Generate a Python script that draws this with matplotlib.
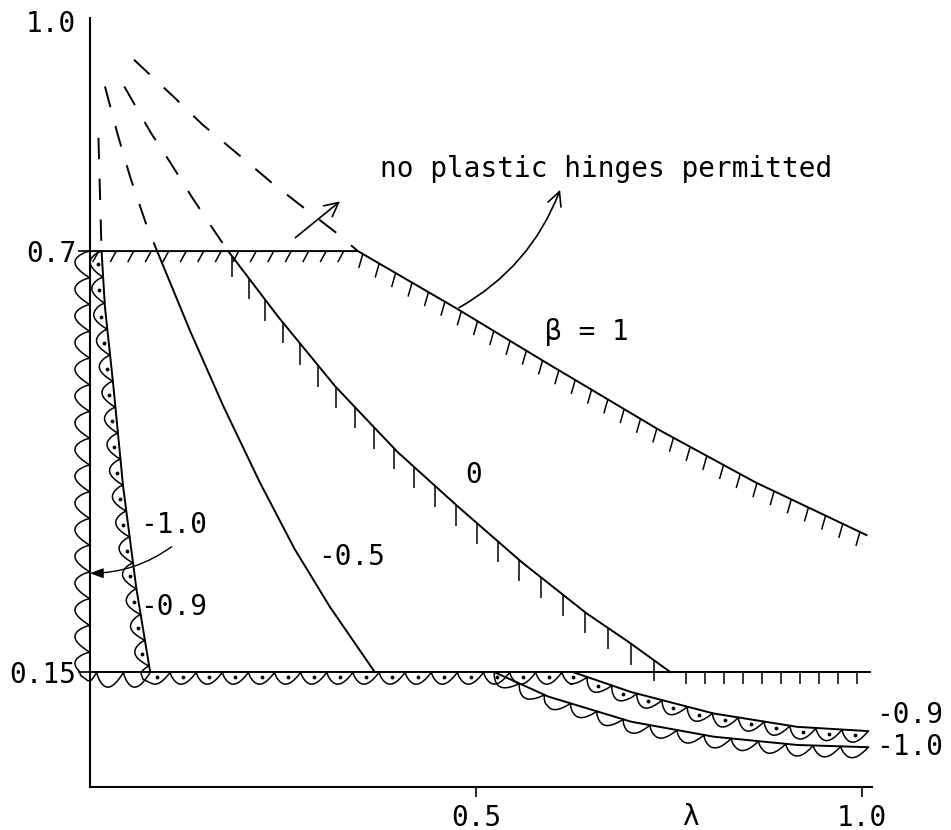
import numpy as np
import matplotlib
matplotlib.use("Agg")
import matplotlib.pyplot as plt
from matplotlib.collections import LineCollection

# values: x = lambda, y = limit value
# beta = 1 : flat at 0.7, then falling
beta1_x = [0.0, 0.347, 0.475, 0.593, 0.738, 0.862, 1.006]
beta1_y = [0.70, 0.70, 0.625, 0.553, 0.466, 0.398, 0.329]

# beta = 0
beta0_x = [0.179, 0.244, 0.318, 0.398, 0.477, 0.559, 0.643, 0.697, 0.752]
beta0_y = [0.70, 0.614, 0.523, 0.438, 0.366, 0.294, 0.227, 0.190, 0.15]

# beta = -0.5
betam05_x = [0.087, 0.130, 0.173, 0.220, 0.265, 0.311, 0.369]
betam05_y = [0.70, 0.595, 0.497, 0.398, 0.311, 0.235, 0.15]

# beta = -0.9 (upper branch)
betam09_x = [0.015, 0.0194, 0.030, 0.043, 0.060, 0.078]
betam09_y = [0.70, 0.627, 0.527, 0.392, 0.26, 0.15]

# lower branches below 0.15
low_m09_x = [0.626, 0.701, 0.808, 0.916, 1.008]
low_m09_y = [0.15, 0.124, 0.096, 0.0786, 0.073]
low_m10_x = [0.524, 0.594, 0.701, 0.808, 0.916, 1.008]
low_m10_y = [0.15, 0.118, 0.0853, 0.0657, 0.0549, 0.052]

# dashed continuations above 0.7
dash_m09_x = [0.011, 0.015]
dash_m09_y = [0.848, 0.70]
dash_m05_x = [0.0194, 0.036, 0.052, 0.0725, 0.087]
dash_m05_y = [0.915, 0.852, 0.797, 0.736, 0.70]
dash_0_x = [0.0444, 0.0786, 0.1045, 0.133, 0.162, 0.179]
dash_0_y = [0.915, 0.855, 0.815, 0.769, 0.725, 0.70]
dash_1_x = [0.057, 0.109, 0.146, 0.196, 0.237, 0.279, 0.319, 0.347]
dash_1_y = [0.950, 0.901, 0.865, 0.823, 0.788, 0.755, 0.724, 0.70]

n_low = 0.15
lam_end = 1.01

y_ticks = [0.15, 0.7, 1.0]
y_ticklabels = ['0.15', '0.7', '1.0']
x_ticks = [0.5, 1.0]
x_ticklabels = ['0.5', '1.0']

FONT = 'DejaVu Sans Mono'
FS = 20


def arc_points(ax, xs, ys):
    pts = ax.transData.transform(np.column_stack([xs, ys]))
    d = np.hypot(*np.diff(pts, axis=0).T)
    s = np.concatenate([[0], np.cumsum(d)])
    return pts, s


def tick_hatch(ax, xs, ys, step, vec, offset=0.5, lw=1.1):
    """short strokes hanging off a curve (pixel spacing / pixel vector)"""
    pts, s = arc_points(ax, xs, ys)
    ss = np.arange(offset * step, s[-1], step)
    base = np.column_stack([np.interp(ss, s, pts[:, 0]), np.interp(ss, s, pts[:, 1])])
    inv = ax.transData.inverted()
    segs = [inv.transform(np.array([p, p + np.array(vec)])) for p in base]
    ax.add_collection(LineCollection(segs, colors='k', linewidths=lw, clip_on=False))


def wavy_hatch(ax, xs, ys, period, amp, dots=False, side=-1, lw=1.1):
    """pointed scallops on one side of a curve"""
    pts, s = arc_points(ax, xs, ys)
    n = max(int(round(s[-1] / period)), 1)
    per = s[-1] / n
    ss = np.linspace(0, s[-1], n * 30 + 1)
    bx = np.interp(ss, s, pts[:, 0])
    by = np.interp(ss, s, pts[:, 1])
    tx, ty = np.gradient(bx), np.gradient(by)
    tn = np.hypot(tx, ty)
    nx, ny = side * -ty / tn, side * tx / tn
    f = (ss / per) % 1.0
    # tooth: quick rise, curved return
    bump = amp * np.sin(np.pi * f ** 0.8) ** 0.9
    inv = ax.transData.inverted()
    wave = inv.transform(np.column_stack([bx + nx * bump, by + ny * bump]))
    ax.plot(wave[:, 0], wave[:, 1], color='k', lw=lw, clip_on=False)
    if dots:
        sc = (np.arange(n) + 0.5) * per
        cx = np.interp(sc, ss, bx + nx * amp * 0.4)
        cy = np.interp(sc, ss, by + ny * amp * 0.4)
        dd = inv.transform(np.column_stack([cx, cy]))
        ax.plot(dd[:, 0], dd[:, 1], 'k.', ms=3.5, clip_on=False)


def main():
    plt.rcParams['font.family'] = FONT
    fig = plt.figure(figsize=(9.51, 8.30), dpi=100)
    ax = fig.add_axes([0.0946, 0.0518, 0.8223, 0.927])
    ax.set_xlim(0, 1.013)
    ax.set_ylim(0, 1.005)

    for side in ['top', 'right']:
        ax.spines[side].set_visible(False)
    for side in ['left', 'bottom']:
        ax.spines[side].set_linewidth(1.5)

    ax.set_xticks(x_ticks)
    ax.set_xticklabels(x_ticklabels, fontsize=FS)
    ax.set_yticks(y_ticks)
    ax.set_yticklabels(y_ticklabels, fontsize=FS)
    ax.tick_params(axis='x', direction='out', length=7, width=1.2, pad=5)
    ax.tick_params(axis='y', direction='out', length=9, width=1.2, pad=1)
    ax.yaxis.get_major_ticks()[2].tick1line.set_visible(False)

    lw = 1.4
    # main boundaries
    ax.plot(beta1_x, beta1_y, color='k', lw=lw)
    ax.plot(beta0_x, beta0_y, color='k', lw=lw)
    ax.plot(betam05_x, betam05_y, color='k', lw=lw)
    ax.plot(betam09_x, betam09_y, color='k', lw=lw)
    ax.plot([0, lam_end], [n_low, n_low], color='k', lw=lw)
    ax.plot(low_m09_x, low_m09_y, color='k', lw=lw)
    ax.plot(low_m10_x, low_m10_y, color='k', lw=lw)

    # dashed parts above 0.7
    for dx, dy in [(dash_m09_x, dash_m09_y), (dash_m05_x, dash_m05_y),
                   (dash_0_x, dash_0_y), (dash_1_x, dash_1_y)]:
        ax.plot(dx, dy, color='k', lw=lw, linestyle=(0, (11, 10)))

    # hatching
    tick_hatch(ax, beta1_x[:2], beta1_y[:2], 17.5, (-6, -11))
    tick_hatch(ax, beta1_x[1:], beta1_y[1:], 19, (-4, -14), offset=0.3)
    tick_hatch(ax, beta0_x, beta0_y, 28, (0, -21), offset=0.2)
    tick_hatch(ax, [beta0_x[-1], lam_end], [n_low, n_low], 19, (0, -12), offset=0.8)

    wavy_hatch(ax, [0, 0, betam09_x[-1]], [0.7, n_low, n_low], 27, 15)
    wavy_hatch(ax, betam09_x + low_m09_x, betam09_y + low_m09_y, 26, 12, dots=True)
    wavy_hatch(ax, low_m10_x, low_m10_y, 28, 11)

    # annotations
    tk = dict(fontsize=FS, family=FONT)
    ax.text(0.3756, 0.797, 'no plastic hinges permitted', ha='left', va='baseline', **tk)
    ax.text(0.590, 0.584, 'β = 1', ha='left', va='baseline', **tk)
    ax.text(0.4968, 0.397, '0', ha='center', va='baseline', **tk)
    ax.text(0.382, 0.290, '-0.5', ha='right', va='baseline', **tk)
    ax.text(0.0648, 0.332, '-1.0', ha='left', va='baseline', **tk)
    ax.text(0.0648, 0.2247, '-0.9', ha='left', va='baseline', **tk)
    ax.text(1.018, 0.0836, '-0.9', ha='left', va='baseline', **tk)
    ax.text(1.018, 0.0418, '-1.0', ha='left', va='baseline', **tk)
    ax.text(0.7785, -0.0496, 'λ', ha='center', va='baseline', **tk)

    ax.annotate('', xy=(0.324, 0.765), xytext=(0.266, 0.7175),
                arrowprops=dict(arrowstyle='->,head_length=0.5,head_width=0.25',
                                lw=1.2, color='k', shrinkA=0, shrinkB=0,
                                mutation_scale=20))
    ax.annotate('', xy=(0.609, 0.780), xytext=(0.478, 0.626),
                arrowprops=dict(arrowstyle='->,head_length=0.5,head_width=0.25',
                                lw=1.2, color='k', shrinkA=0, shrinkB=0,
                                connectionstyle='arc3,rad=0.18', mutation_scale=20))
    ax.annotate('', xy=(0.0, 0.2792), xytext=(0.1058, 0.3139),
                arrowprops=dict(arrowstyle='-|>,head_length=0.4,head_width=0.15',
                                lw=1.0, color='k', shrinkA=0, shrinkB=0,
                                connectionstyle='arc3,rad=-0.16', mutation_scale=20))

    fig.savefig('out.png', dpi=100)


if __name__ == "__main__":
    main()
